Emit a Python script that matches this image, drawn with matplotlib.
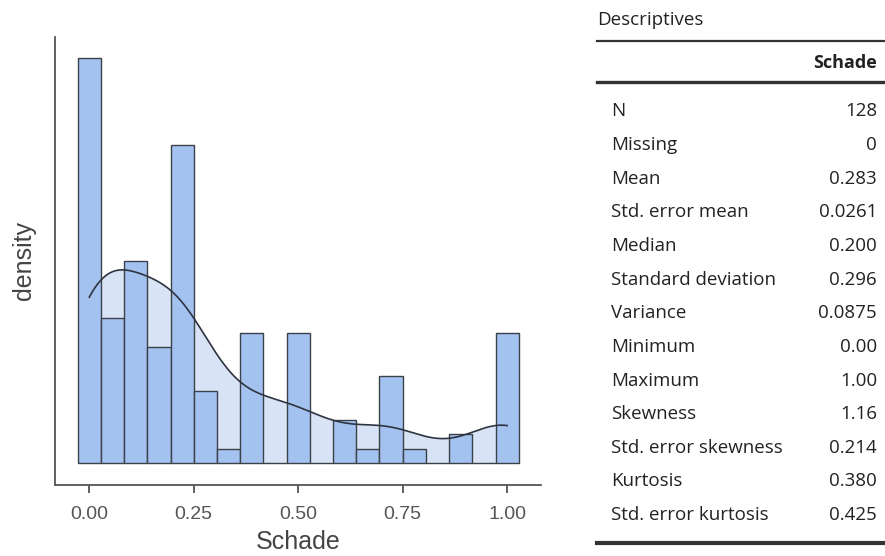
import numpy as np
import matplotlib
matplotlib.use("Agg")
import matplotlib.pyplot as plt
from matplotlib.lines import Line2D

# ---- data ----
bin_centers = [k / 18 for k in range(19)]
counts = [28, 10, 14, 8, 22, 5, 1, 9, 0, 9, 0, 3, 1, 6, 1, 0, 2, 0, 9]
x_ticks = [0.0, 0.25, 0.5, 0.75, 1.0]
x_tick_labels = ["0.00", "0.25", "0.50", "0.75", "1.00"]

stat_names = ["N", "Missing", "Mean", "Std. error mean", "Median",
              "Standard deviation", "Variance", "Minimum", "Maximum",
              "Skewness", "Std. error skewness", "Kurtosis", "Std. error kurtosis"]
stat_values = ["128", "0", "0.283", "0.0261", "0.200", "0.296", "0.0875",
               "0.00", "1.00", "1.16", "0.214", "0.380", "0.425"]

W, H = 885, 556
fig = plt.figure(figsize=(W / 100, H / 100), dpi=100)

def fx(px):
    return px / W

def fy(py):
    return 1 - py / H

# ---- histogram ----
ax = fig.add_axes([fx(55), fy(485), fx(541) - fx(55), fy(37) - fy(485)])
centers = np.array(bin_centers)
cnt = np.array(counts, dtype=float)
bw_bin = 1 / 18
n = cnt.sum()
dens = cnt / (n * bw_bin)

# kde from the sample implied by the histogram
sample = np.repeat(centers, cnt.astype(int))
sd = sample.std(ddof=1)
q1, q3 = np.percentile(sample, [25, 75])
bw = 0.9 * min(sd, (q3 - q1) / 1.34) * len(sample) ** (-0.2)
xs = np.linspace(0, 1, 400)
kde = np.exp(-0.5 * ((xs[:, None] - sample[None, :]) / bw) ** 2).sum(axis=1) / (len(sample) * bw * np.sqrt(2 * np.pi))

ax.fill_between(xs, 0, kde, color="#d8e3f5", lw=0, zorder=1)
ax.bar(centers, dens, width=bw_bin, color="#a4c2f0", edgecolor="#3c4048",
       linewidth=1.0, zorder=2)
ax.plot(xs, kde, color="#2e3440", lw=1.2, zorder=3)

ax.set_xlim(-0.082, 1.081)
ax.set_ylim(-0.214, 4.144)
for s in ["top", "right"]:
    ax.spines[s].set_visible(False)
for s in ["left", "bottom"]:
    ax.spines[s].set_color("#555555")
    ax.spines[s].set_linewidth(1.3)
ax.set_yticks([])
ax.set_xticks(x_ticks)
ax.set_xticklabels(x_tick_labels, fontsize=14, color="#555555",
                   family="Liberation Sans")
ax.tick_params(axis="x", length=6, width=1.3, color="#555555", pad=9)
ax.set_xlabel("Schade", fontsize=18, color="#444444", family="Liberation Sans",
              labelpad=5)
ax.set_ylabel("density", fontsize=18, color="#444444", family="Liberation Sans",
              labelpad=14)

# ---- table ----
tf = "Open Sans"
tc = "#222222"
fig.text(fx(597), fy(20), "Descriptives", fontsize=13.5, family=tf, color=tc,
         ha="left", va="center")
fig.add_artist(Line2D([fx(597), fx(885)], [fy(40.7), fy(40.7)], color="#333333", lw=1.6))
fig.text(fx(877), fy(63), "Schade", fontsize=13, family=tf, color=tc,
         ha="right", va="center", weight="bold")
fig.add_artist(Line2D([fx(597), fx(885)], [fy(82), fy(82)], color="#333333", lw=2.4))
row0 = 111.5
step = (515 - 111.5) / 12
for i, (nm, v) in enumerate(zip(stat_names, stat_values)):
    y = row0 + i * step
    fig.text(fx(611), fy(y), nm, fontsize=13.5, family=tf, color=tc,
             ha="left", va="center")
    fig.text(fx(877), fy(y), v, fontsize=13.5, family=tf, color=tc,
             ha="right", va="center")
fig.add_artist(Line2D([fx(597), fx(885)], [fy(543), fy(543)], color="#333333", lw=3.0))

fig.savefig("out.png", dpi=100)
